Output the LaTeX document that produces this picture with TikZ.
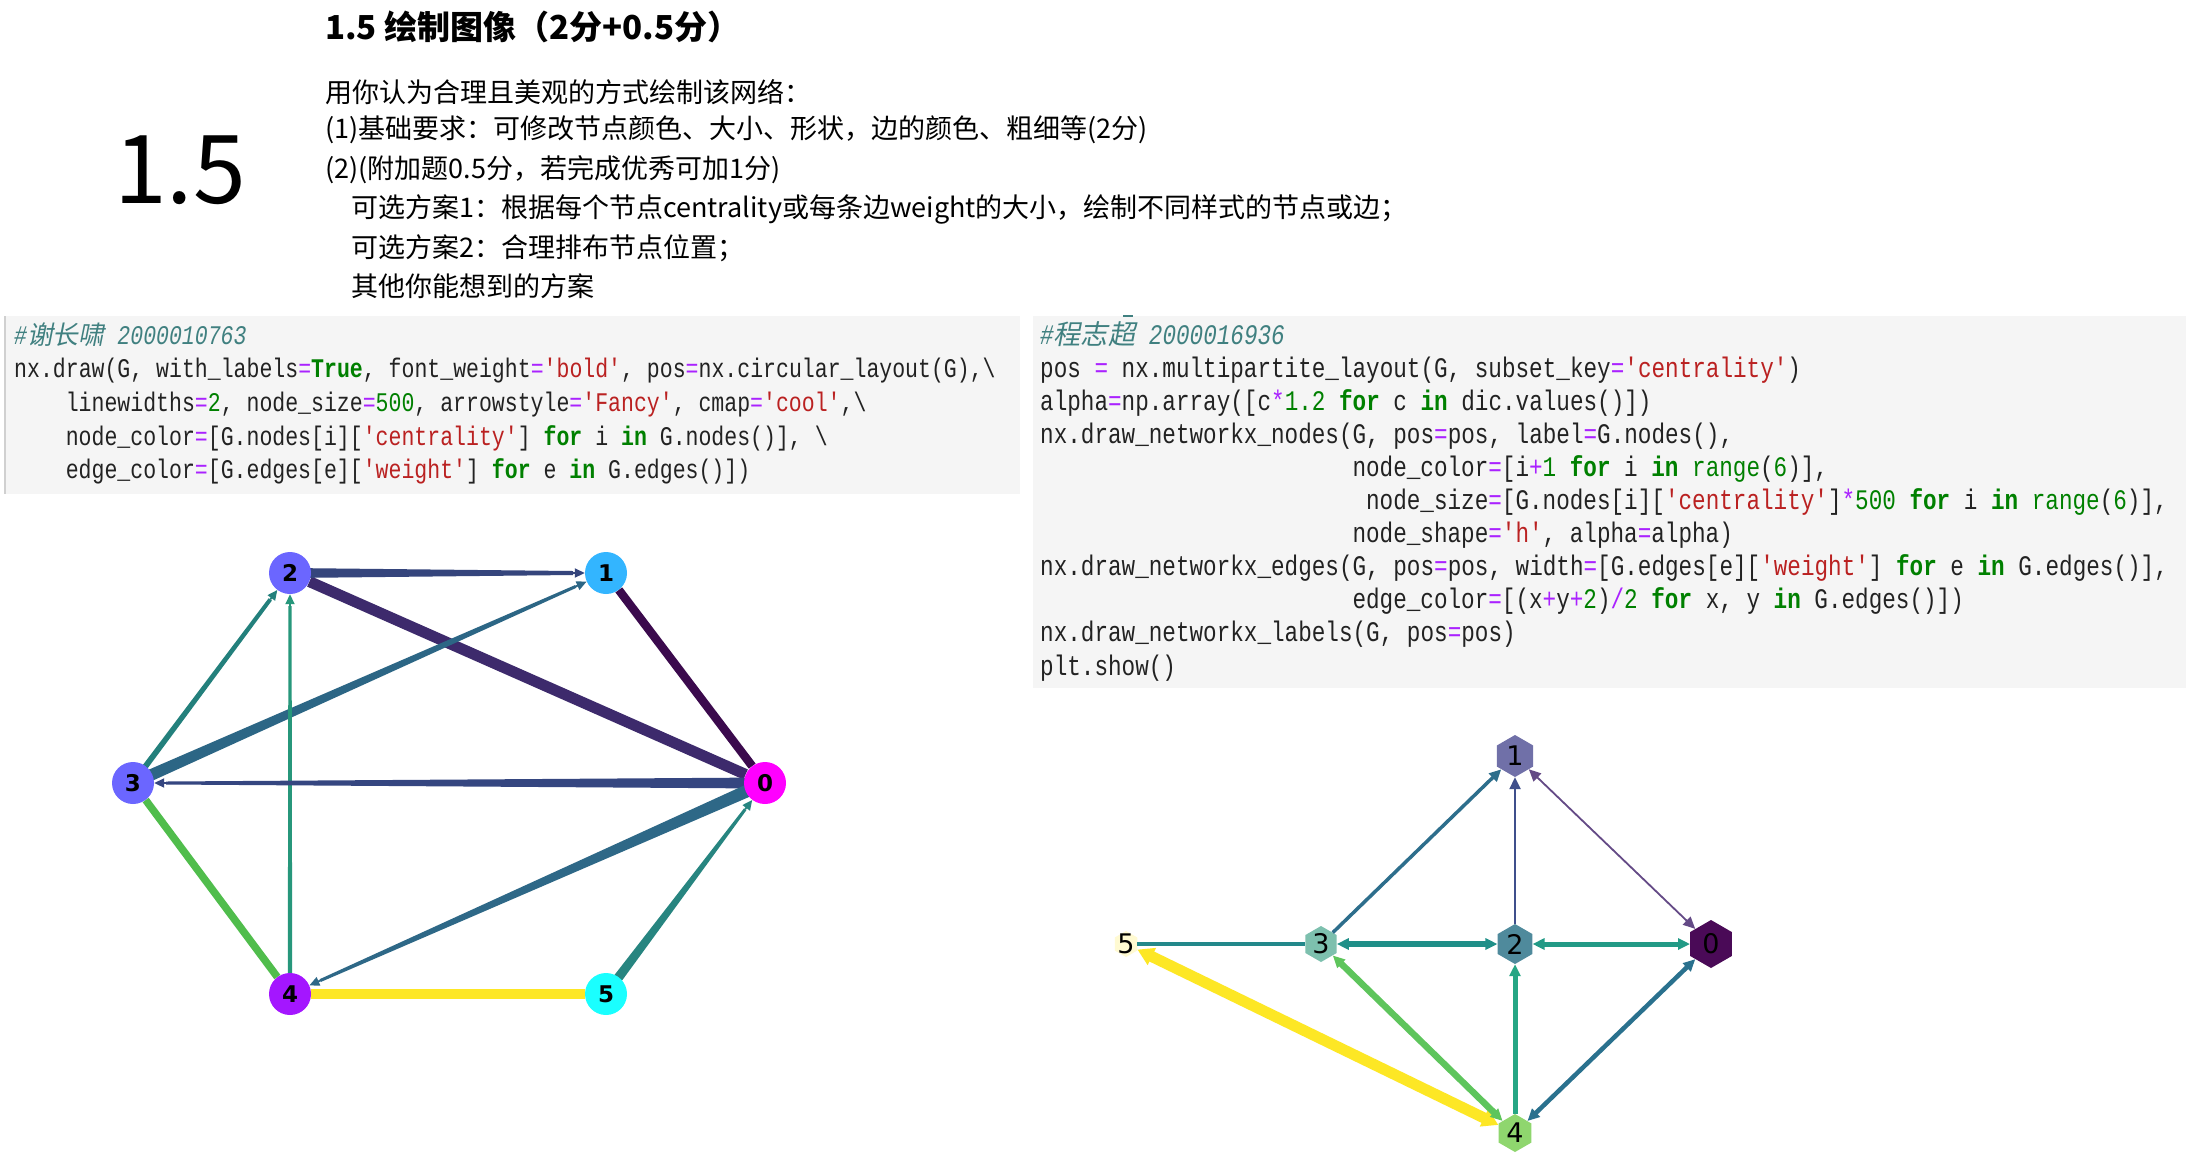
\documentclass[tikz,border=0pt]{standalone}
\usepackage{fontspec}
\setmainfont{Liberation Sans}
\newfontfamily\cjk{Noto Sans CJK SC}
\newfontfamily\cjkslant[FakeSlant=0.2]{Noto Sans CJK SC}
\newfontfamily\codefont[FakeStretch=0.8]{Liberation Mono}
\newfontfamily\labfont{DejaVu Sans}
\usetikzlibrary{calc,arrows.meta,shapes.geometric}
\pgfdeclarelayer{paper}
\pgfdeclarelayer{bg}
\pgfsetlayers{paper,bg,main}

\definecolor{codebg}{HTML}{F5F5F5}
\definecolor{boxline}{HTML}{D0D0D0}
\definecolor{cmt}{HTML}{408080}
\definecolor{kwc}{HTML}{008000}
\definecolor{strc}{HTML}{BA2121}
\definecolor{numc}{HTML}{008000}
\definecolor{opc}{HTML}{AA22FF}
\definecolor{codetext}{HTML}{222222}
% left graph
\definecolor{lc0}{HTML}{FF00FF}
\definecolor{lc1}{HTML}{33B5FF}
\definecolor{lc2}{HTML}{6B66FF}
\definecolor{lc3}{HTML}{6B66FF}
\definecolor{lc4}{HTML}{A416FF}
\definecolor{lc5}{HTML}{1AFFFF}
\definecolor{le21}{HTML}{35457C}
\definecolor{le20}{HTML}{3D2A6C}
\definecolor{le10}{HTML}{3B0A4D}
\definecolor{le31}{HTML}{2C6685}
\definecolor{le32}{HTML}{23807C}
\definecolor{le42}{HTML}{27977B}
\definecolor{le03}{HTML}{354680}
\definecolor{le34}{HTML}{50BD4C}
\definecolor{le04}{HTML}{2E6887}
\definecolor{le50}{HTML}{278580}
\definecolor{le45}{HTML}{FDE725}
% right graph
\definecolor{rc0}{HTML}{4A0A57}
\definecolor{rc1}{HTML}{7070A8}
\definecolor{rc2}{HTML}{4F8A9C}
\definecolor{rc3}{HTML}{7DC0AE}
\definecolor{rc4}{HTML}{8FD66E}
\definecolor{rc5}{HTML}{FFFAD2}
\definecolor{re31}{HTML}{2D6E8C}
\definecolor{re21}{HTML}{3F4F8B}
\definecolor{re10}{HTML}{644A86}
\definecolor{re53}{HTML}{23888A}
\definecolor{re32}{HTML}{1F8F88}
\definecolor{re20}{HTML}{229A86}
\definecolor{re54}{HTML}{FDE725}
\definecolor{re43}{HTML}{5EC55C}
\definecolor{re42}{HTML}{26A684}
\definecolor{re40}{HTML}{2A718E}

\newcommand\Ckw[1]{{\color{kwc}\bfseries #1}}
\newcommand\Cstr[1]{{\color{strc}#1}}
\newcommand\Cnum[1]{{\color{numc}#1}}
\newcommand\Cop[1]{{\color{opc}#1}}
\newcommand\Cbi[1]{{\color{numc}#1}}

% tapered edge ending in a small arrow head at the target node
\newcommand\taperarrow[5]{%
  \path ($(#2)!33pt!(#1)$) coordinate (teend);
  \fill[#5] ($(#1)!#3!90:(teend)$) -- ($(teend)!#4!-90:(#1)$) -- ($(teend)!#4!90:(#1)$) -- ($(#1)!#3!-90:(teend)$) -- cycle;
  \draw[#5, line width=1.8pt, -{Triangle[length=10pt,width=9pt]}] (teend) -- (#2);
}

\begin{document}
\begin{tikzpicture}[x=1pt,y=-1pt,
  htext/.style={anchor=west, inner sep=0pt, font={\fontsize{27}{32}\selectfont\cjk}},
  htitle/.style={anchor=west, inner sep=0pt, font={\fontsize{33}{38}\selectfont\cjk\bfseries}},
  lcode/.style={anchor=base west, inner sep=0pt, text=codetext, font={\fontsize{26.9}{33}\selectfont\codefont}},
  rcode/.style={anchor=base west, inner sep=0pt, text=codetext, font={\fontsize{28.3}{33}\selectfont\codefont}},
  lnode/.style={circle, minimum size=42pt, inner sep=0pt, font={\fontsize{23}{23}\selectfont\labfont\bfseries}},
  rnode/.style={regular polygon, regular polygon sides=6, shape border rotate=30, inner sep=0pt},
  rlab/.style={inner sep=0pt, font={\fontsize{27}{27}\selectfont\labfont}},
  hd/.style={arrows={-{Triangle[length=12pt,width=11pt]}}},
  hdd/.style={arrows={{Triangle[length=12pt,width=11pt]}-{Triangle[length=12pt,width=11pt]}}},
  hddy/.style={arrows={{Triangle[length=16pt,width=18pt]}-{Triangle[length=16pt,width=18pt]}}},
]
\useasboundingbox (0,0) rectangle (2190,1168);
\begin{pgfonlayer}{paper}
\fill[white] (0,0) rectangle (2190,1168);
\end{pgfonlayer}

% ---------------- header ----------------
\node[anchor=base, inner sep=0pt, font={\fontsize{95}{100}\selectfont\cjk}] (big) at (180,203) {1.5};
\node[htitle] (title) at (325,27) {1.5 绘制图像（2分+0.5分）};
\node[htext] (h1) at (325,92) {用你认为合理且美观的方式绘制该网络：};
\node[htext] (h2) at (325,130) {(1)基础要求：可修改节点颜色、大小、形状，边的颜色、粗细等(2分)};
\node[htext] (h3) at (325,170) {(2)(附加题0.5分，若完成优秀可加1分)};
\node[htext] (h4) at (351,209) {可选方案1：根据每个节点centrality或每条边weight的大小，绘制不同样式的节点或边；};
\node[htext] (h5) at (351,248) {可选方案2：合理排布节点位置；};
\node[htext] (h6) at (351,286) {其他你能想到的方案};

% ---------------- code boxes ----------------
\begin{pgfonlayer}{paper}
\fill[codebg] (4,316) rectangle (1020,494);
\draw[boxline, line width=2pt] (5,316) -- (5,494);
\fill[codebg] (1033,316) rectangle (2186,688);
\draw[cmt, line width=2pt] (1123,316) -- (1133,316);
\end{pgfonlayer}

\node[lcode] (lc0) at (14,344) {\color{cmt}\itshape\#{\fontsize{25.8}{30}\cjkslant 谢长啸} 2000010763};
\node[lcode] (lc1) at (14,377.7) {nx.draw(G, with\_labels\Cop{=}\Ckw{True}, font\_weight\Cop{=}\Cstr{'bold'}, pos\Cop{=}nx.circular\_layout(G),\textbackslash};
\node[lcode] (lc2) at (65.6,411.4) {linewidths\Cop{=}\Cnum{2}, node\_size\Cop{=}\Cnum{500}, arrowstyle\Cop{=}\Cstr{'Fancy'}, cmap\Cop{=}\Cstr{'cool'},\textbackslash};
\node[lcode] (lc3) at (65.6,445.1) {node\_color\Cop{=}[G.nodes[i][\Cstr{'centrality'}] \Ckw{for} i \Ckw{in} G.nodes()], \textbackslash};
\node[lcode] (lc4) at (65.6,478.8) {edge\_color\Cop{=}[G.edges[e][\Cstr{'weight'}] \Ckw{for} e \Ckw{in} G.edges()])};

\node[rcode] (rc0) at (1040,344) {\color{cmt}\itshape\#{\fontsize{27.2}{30}\cjkslant 程志超} 2000016936};
\node[rcode] (rc1) at (1040,377.1) {pos \Cop{=} nx.multipartite\_layout(G, subset\_key\Cop{=}\Cstr{'centrality'})};
\node[rcode] (rc2) at (1040,410.2) {alpha\Cop{=}np.array([c\Cop{*}\Cnum{1.2} \Ckw{for} c \Ckw{in} dic.values()])};
\node[rcode] (rc3) at (1040,443.3) {nx.draw\_networkx\_nodes(G, pos\Cop{=}pos, label\Cop{=}G.nodes(),};
\node[rcode] (rc4) at (1352.3,476.4) {node\_color\Cop{=}[i\Cop{+}\Cnum{1} \Ckw{for} i \Ckw{in} \Cbi{range}(\Cnum{6})],};
\node[rcode] (rc5) at (1365.9,509.5) {node\_size\Cop{=}[G.nodes[i][\Cstr{'centrality'}]\Cop{*}\Cnum{500} \Ckw{for} i \Ckw{in} \Cbi{range}(\Cnum{6})],};
\node[rcode] (rc6) at (1352.3,542.6) {node\_shape\Cop{=}\Cstr{'h'}, alpha\Cop{=}alpha)};
\node[rcode] (rc7) at (1040,575.7) {nx.draw\_networkx\_edges(G, pos\Cop{=}pos, width\Cop{=}[G.edges[e][\Cstr{'weight'}] \Ckw{for} e \Ckw{in} G.edges()],};
\node[rcode] (rc8) at (1352.3,608.8) {edge\_color\Cop{=}[(x\Cop{+}y\Cop{+}\Cnum{2})\Cop{/}\Cnum{2} \Ckw{for} x, y \Ckw{in} G.edges()])};
\node[rcode] (rc9) at (1040,641.9) {nx.draw\_networkx\_labels(G, pos\Cop{=}pos)};
\node[rcode] (rc10) at (1040,675) {plt.show()};

% ---------------- left graph (circular layout) ----------------
\node[lnode, fill=lc0] (a0) at (765,783) {0};
\node[lnode, fill=lc1] (a1) at (606,573) {1};
\node[lnode, fill=lc2] (a2) at (290,573) {2};
\node[lnode, fill=lc3] (a3) at (133,783) {3};
\node[lnode, fill=lc4] (a4) at (290,994) {4};
\node[lnode, fill=lc5] (a5) at (606,994) {5};

\begin{pgfonlayer}{bg}
  \draw[le20, line width=11pt] (a2) -- (a0);
  \draw[le10, line width=8.5pt] (a1) -- (a0);
  \draw[le34, line width=7.5pt] (a3) -- (a4);
  \draw[le45, line width=10pt] (a4) -- (a5);
  \taperarrow{a2}{a1}{5pt}{2pt}{le21}
  \taperarrow{a3}{a1}{6pt}{1.5pt}{le31}
  \taperarrow{a3}{a2}{3pt}{2pt}{le32}
  \taperarrow{a4}{a2}{2.2pt}{1.6pt}{le42}
  \taperarrow{a0}{a3}{5.5pt}{1.5pt}{le03}
  \taperarrow{a0}{a4}{6.5pt}{1.5pt}{le04}
  \taperarrow{a5}{a0}{5pt}{1.5pt}{le50}
\end{pgfonlayer}

% ---------------- right graph (multipartite layout) ----------------
\node[rnode, fill=rc0, minimum size=48pt] (r0) at (1711,944) {};
\node[rnode, fill=rc1, minimum size=42pt] (r1) at (1515,756) {};
\node[rnode, fill=rc2, minimum size=40pt] (r2) at (1515,944) {};
\node[rnode, fill=rc3, minimum size=36pt] (r3) at (1321,944) {};
\node[rnode, fill=rc4, minimum size=38pt] (r4) at (1515,1133) {};
\node[rnode, fill=rc5, minimum size=26pt] (r5) at (1126,944) {};

\draw[re31, line width=3.5pt, hd] (r3) -- (r1);
\draw[re21, line width=2.5pt, hd] (r2) -- (r1);
\draw[re10, line width=1.8pt, hdd] (r1) -- (r0);
\draw[re53, line width=3.5pt] (r5) -- (r3);
\draw[re32, line width=5.5pt, hdd] (r3) -- (r2);
\draw[re20, line width=5pt, hdd] (r2) -- (r0);
\draw[re54, line width=11pt, hddy] (r5) -- (r4);
\draw[re43, line width=6.5pt, hdd] (r4) -- (r3);
\draw[re42, line width=5pt, hd] (r4) -- (r2);
\draw[re40, line width=4.5pt, hdd] (r4) -- (r0);

\node[rlab] (t0) at (r0) {0};
\node[rlab] (t1) at (r1) {1};
\node[rlab] (t2) at (r2) {2};
\node[rlab] (t3) at (r3) {3};
\node[rlab] (t4) at (r4) {4};
\node[rlab] (t5) at (r5) {5};
\end{tikzpicture}
\end{document}
